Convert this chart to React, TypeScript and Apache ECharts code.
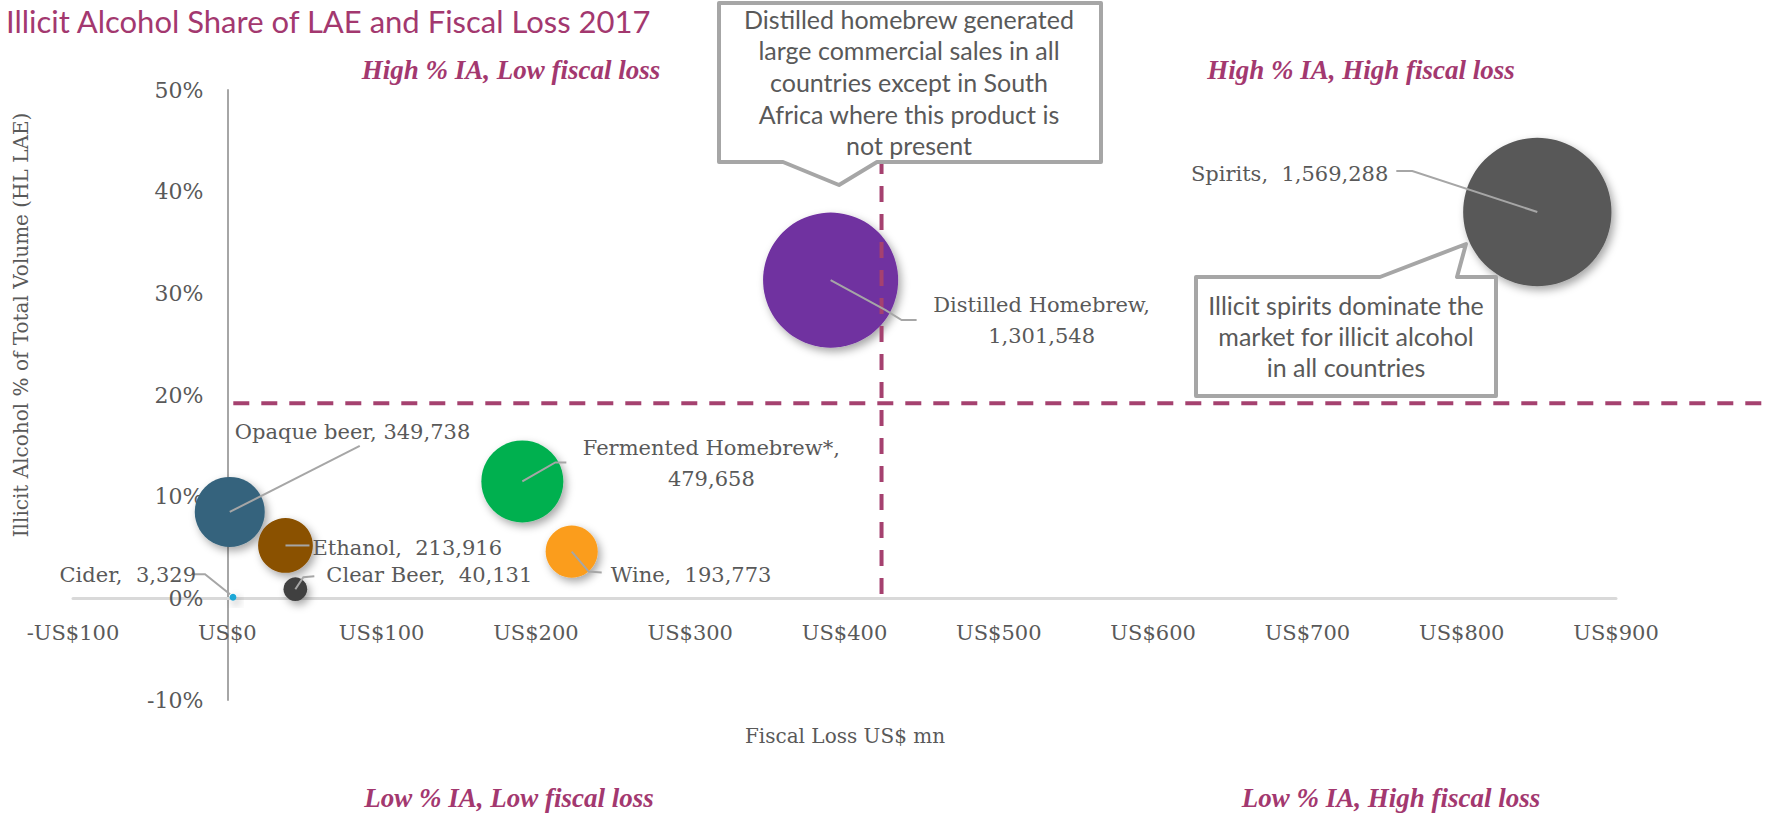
import React, { useEffect, useRef } from "react";
import * as echarts from "echarts";

// ---------- Data ----------
const categories = [
  "Opaque beer",
  "Ethanol",
  "Clear Beer",
  "Cider",
  "Fermented Homebrew*",
  "Wine",
  "Distilled Homebrew",
  "Spirits",
];
const fiscalLossUSDmn = [1.6, 37.7, 44.1, 3.7, 191.2, 223.2, 391, 849];
const illicitSharePct = [8.5, 5.2, 0.9, 0.1, 11.5, 4.6, 31.3, 38.0];
const volumeHL = [349738, 213916, 40131, 3329, 479658, 193773, 1301548, 1569288];
const bubbleColors = ["#36647D", "#8A5100", "#404040", "#1BA7D6", "#00B050", "#FB9D1C", "#7030A0", "#595959"];

const xMin = -100;
const xMax = 900;
const xStep = 100;
const yMin = -10;
const yMax = 50;
const yStep = 10;

const fiscalLossThreshold = 424;
const shareThreshold = 19.2;
const thresholdTop = 43.3;

const quadrantLabels = [
  "High % IA, Low fiscal loss",
  "High % IA, High fiscal loss",
  "Low % IA, Low fiscal loss",
  "Low % IA, High fiscal loss",
];
const calloutTexts = [
  "Distilled homebrew generated\nlarge commercial sales in all\ncountries except in South\nAfrica where this product is\nnot present",
  "Illicit spirits dominate the\nmarket for illicit alcohol\nin all countries",
];

// ---------- Styling / layout (pixel offsets, not data) ----------
const W = 1773;
const H = 815;
const GRID = { left: 73, right: 157, top: 90, bottom: 115 };
const LABEL_LAYOUT: any[] = [
  { dx: 5, dy: -80, align: "left", sep: " ", line: [[0, 0], [130, -66]] },
  { dx: 27, dy: 3, align: "left", sep: "  ", line: [[0, 0], [24, 0]] },
  { dx: 31, dy: -14, align: "left", sep: "  ", line: [[0, 0], [8, -12], [19, -13]] },
  { dx: -37, dy: -22, align: "right", sep: "  ", line: [[-3, -3], [-28, -23], [-39, -23]] },
  { dx: 189, dy: -18, align: "center", sep: "\n", line: [[0, 0], [33, -19], [44, -19]] },
  { dx: 39, dy: 23, align: "left", sep: "  ", line: [[0, 0], [17, 20], [30, 21]] },
  { dx: 211, dy: 40, align: "center", sep: "\n", line: [[0, 0], [55, 30], [71, 40], [86, 40]] },
  { dx: -149, dy: -38, align: "right", sep: "  ", line: [[0, 0], [-125, -41], [-141, -41]] },
];
const QUAD_POS = [
  [511, 70],
  [1361, 70],
  [509, 798],
  [1391, 798],
];
const ACCENT = "#A3386F";
const DASH = "#A5416F";
const TEXT = "#595959";
const SERIF = "DejaVu Serif";
const SANS = "Lato";

const fmt = (v: number) => v.toLocaleString("en-US");

export default function App() {
  const ref = useRef<HTMLDivElement>(null);

  useEffect(() => {
    if (!ref.current) return;
    const chart = echarts.init(ref.current, null, { renderer: "svg" });

    const gridW = W - GRID.left - GRID.right;
    const gridH = H - GRID.top - GRID.bottom;
    // place the axes (with their labels) on the zero of the other axis
    const xAxisOffset = -((0 - yMin) / (yMax - yMin)) * gridH;
    const yAxisOffset = -((0 - xMin) / (xMax - xMin)) * gridW;

    const points = categories.map((name, i) => ({
      name,
      value: [fiscalLossUSDmn[i], illicitSharePct[i], volumeHL[i]],
      itemStyle: { color: bubbleColors[i] },
    }));

    const option: any = {
      animation: false,
      grid: { ...GRID, containLabel: false },
      xAxis: {
        type: "value",
        min: xMin,
        max: xMax,
        interval: xStep,
        position: "bottom",
        offset: xAxisOffset,
        axisLine: { show: true, onZero: false, lineStyle: { color: "#D9D9D9", width: 3 } },
        axisTick: { show: false },
        splitLine: { show: false },
        axisLabel: {
          color: TEXT,
          fontFamily: SERIF,
          fontSize: 21,
          margin: 24,
          formatter: (v: number) => (v < 0 ? "-US$" + Math.abs(v) : "US$" + v),
        },
      },
      yAxis: {
        type: "value",
        min: yMin,
        max: yMax,
        interval: yStep,
        position: "left",
        offset: yAxisOffset,
        axisLine: { show: true, onZero: false, lineStyle: { color: "#A6A6A6", width: 2 } },
        axisTick: { show: false },
        splitLine: { show: false },
        axisLabel: {
          color: TEXT,
          fontFamily: SERIF,
          fontSize: 22,
          margin: 24,
          formatter: (v: number) => v + "%",
        },
      },
      series: [
        {
          type: "scatter",
          z: 2,
          data: points,
          symbolSize: (d: number[]) => 2 * 0.0592 * Math.sqrt(d[2]),
          itemStyle: {
            opacity: 1,
            shadowBlur: 8,
            shadowOffsetX: 3,
            shadowOffsetY: 4,
            shadowColor: "rgba(0,0,0,0.35)",
          },
          emphasis: { disabled: true },
        },
        {
          type: "custom",
          z: 3,
          clip: false,
          silent: true,
          data: [[fiscalLossThreshold, shareThreshold]],
          renderItem: (params: any, api: any) => {
            const vx = api.value(0);
            const vy = api.value(1);
            const vBottom = api.coord([vx, 0]);
            const vTop = api.coord([vx, thresholdTop]);
            const hStart = api.coord([0, vy]);
            const dashStyle = { stroke: DASH, lineWidth: 4, lineDash: [16, 12], fill: null };
            return {
              type: "group",
              children: [
                {
                  type: "line",
                  shape: { x1: vTop[0], y1: vTop[1], x2: vBottom[0], y2: vBottom[1] },
                  style: dashStyle,
                },
                {
                  type: "line",
                  shape: { x1: hStart[0] + 6, y1: hStart[1], x2: api.getWidth(), y2: hStart[1] },
                  style: dashStyle,
                },
              ],
            };
          },
        },
        {
          type: "custom",
          z: 4,
          clip: false,
          silent: true,
          data: categories.map((n, i) => [fiscalLossUSDmn[i], illicitSharePct[i], volumeHL[i]]),
          renderItem: (params: any, api: any) => {
            const i = params.dataIndex;
            const c = api.coord([api.value(0), api.value(1)]);
            const L = LABEL_LAYOUT[i];
            const text = categories[i] + "," + L.sep + fmt(api.value(2));
            return {
              type: "group",
              children: [
                {
                  type: "polyline",
                  shape: { points: L.line.map((p: number[]) => [c[0] + p[0], c[1] + p[1]]) },
                  style: { stroke: "#A6A6A6", lineWidth: 2, fill: null },
                },
                {
                  type: "text",
                  x: c[0] + L.dx,
                  y: c[1] + L.dy,
                  style: {
                    text,
                    fill: TEXT,
                    fontFamily: SERIF,
                    fontSize: 21,
                    lineHeight: 31,
                    align: L.align,
                    verticalAlign: "middle",
                  },
                },
              ],
            };
          },
        },
      ],
      graphic: [
        {
          type: "text",
          left: 6,
          top: 5,
          style: { text: "Illicit Alcohol Share of LAE and Fiscal Loss 2017", fill: ACCENT, fontFamily: SANS, fontSize: 31 },
        },
        ...quadrantLabels.map((t, i) => ({
          type: "text",
          x: QUAD_POS[i][0],
          y: QUAD_POS[i][1],
          style: {
            text: t,
            fill: ACCENT,
            fontFamily: "Liberation Serif",
            fontStyle: "italic",
            fontWeight: "bold",
            fontSize: 27,
            align: "center",
            verticalAlign: "middle",
          },
        })),
        {
          type: "text",
          x: 845,
          y: 736,
          style: { text: "Fiscal Loss US$ mn", fill: TEXT, fontFamily: SERIF, fontSize: 20, align: "center", verticalAlign: "middle" },
        },
        {
          type: "text",
          x: 21,
          y: 325,
          rotation: Math.PI / 2,
          style: {
            text: "Illicit Alcohol % of Total Volume (HL LAE)",
            fill: TEXT,
            fontFamily: SERIF,
            fontSize: 20,
            align: "center",
            verticalAlign: "middle",
          },
        },
        {
          type: "polygon",
          z: 10,
          shape: {
            points: [[719, 3], [1101, 3], [1101, 162], [877, 162], [839, 185], [783, 162], [719, 162]],
          },
          style: { fill: "#FFFFFF", stroke: "#A6A6A6", lineWidth: 4, lineJoin: "round" },
        },
        {
          type: "text",
          z: 11,
          x: 909,
          y: 82,
          style: {
            text: calloutTexts[0],
            fill: TEXT,
            fontFamily: SANS,
            fontSize: 25,
            lineHeight: 31.7,
            align: "center",
            verticalAlign: "middle",
          },
        },
        {
          type: "polygon",
          z: 10,
          shape: {
            points: [[1196, 277], [1380, 277], [1466, 244], [1457, 277], [1496, 277], [1496, 396], [1196, 396]],
          },
          style: { fill: "#FFFFFF", stroke: "#A6A6A6", lineWidth: 4, lineJoin: "round" },
        },
        {
          type: "text",
          z: 11,
          x: 1346,
          y: 336,
          style: {
            text: calloutTexts[1],
            fill: TEXT,
            fontFamily: SANS,
            fontSize: 25,
            lineHeight: 31,
            align: "center",
            verticalAlign: "middle",
          },
        },
      ],
    };

    chart.setOption(option);
    return () => chart.dispose();
  }, []);

  return (
    <div
      ref={ref}
      style={{ position: "absolute", left: 0, top: 0, width: W, height: H, background: "#FFFFFF" }}
    />
  );
}
